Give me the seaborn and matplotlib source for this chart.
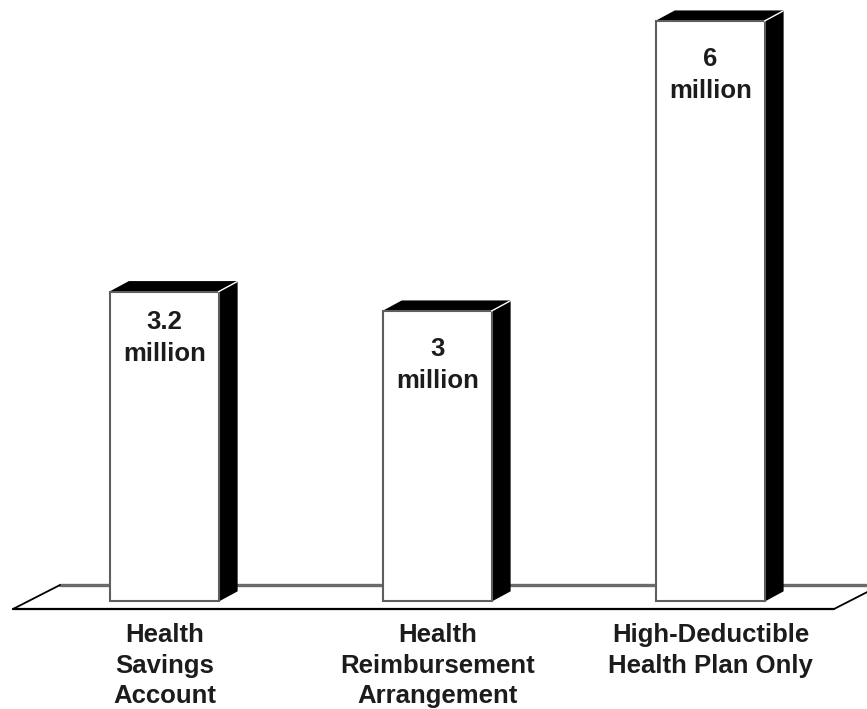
import matplotlib
matplotlib.use("Agg")
import matplotlib.pyplot as plt
import pandas as pd
import seaborn as sns
from matplotlib.patches import Polygon
from matplotlib.lines import Line2D

# Enrollment by account type (millions of people)
categories = [
    "Health\nSavings\nAccount",
    "Health\nReimbursement\nArrangement",
    "High-Deductible\nHealth Plan Only",
]
values = [3.2, 3.0, 6.0]
value_labels = ["3.2\nmillion", "3\nmillion", "6\nmillion"]

sns.set_theme(style="white")
plt.rcParams["font.family"] = ["Liberation Sans", "DejaVu Sans"]

W, H = 867, 709
fig = plt.figure(figsize=(W / 100, H / 100), dpi=100)
ax = fig.add_axes([0, 0, 1, 1])

df = pd.DataFrame({"plan": categories, "people": values})
sns.barplot(data=df, x="plan", y="people", color="white", saturation=1,
            width=0.396, edgecolor="#5e5e5e", linewidth=1.5, ax=ax, zorder=3)

# Axis limits chosen so the floor line sits near the bottom of the canvas
xlim = (-0.6026, 2.5733)
ylim = (-1.1172, 6.2172)
ax.set_xlim(*xlim)
ax.set_ylim(*ylim)
ax.axis("off")

# size of one pixel in data units
px_x = (xlim[1] - xlim[0]) / W
px_y = (ylim[1] - ylim[0]) / H

# depth of the pseudo-3D extrusion
dx, dy = 18.5 * px_x, 10 * px_y

# floor slab
fy_back, fy_front = 16 * px_y, -8 * px_y
fl_front, fr_front = xlim[0] + 13 * px_x, xlim[0] + 834 * px_x
slant = 47 * px_x
ax.add_patch(Polygon([(fl_front, fy_front), (fl_front + slant, fy_back),
                      (fr_front + slant, fy_back), (fr_front, fy_front)],
                     closed=True, facecolor="white", edgecolor="none", zorder=1))
ax.add_line(Line2D([fl_front + slant, fr_front + slant], [fy_back, fy_back],
                   color="#6a6a6a", lw=2.4, zorder=1.5))
ax.add_line(Line2D([fl_front, fl_front + slant], [fy_front, fy_back],
                   color="black", lw=1.3, zorder=1.5))
ax.add_line(Line2D([fr_front, fr_front + slant], [fy_front, fy_back],
                   color="black", lw=1.3, zorder=1.5))
ax.add_line(Line2D([fl_front, fr_front], [fy_front, fy_front],
                   color="black", lw=1.6, zorder=1.5))

# distance (px) from bar top to the middle of its value label
label_drop = [46, 54, 54]

# top and side faces of every bar, plus value labels
for patch, label, drop in zip(ax.patches[:len(values)], value_labels, label_drop):
    x0, w, h = patch.get_x(), patch.get_width(), patch.get_height()
    x1 = x0 + w
    ax.add_patch(Polygon([(x0, h), (x0 + dx, h + dy), (x1 + dx, h + dy), (x1, h)],
                         closed=True, facecolor="black", edgecolor="black",
                         lw=0.8, zorder=2))
    ax.add_patch(Polygon([(x1, 0), (x1, h), (x1 + dx, h + dy), (x1 + dx, dy)],
                         closed=True, facecolor="black", edgecolor="black",
                         lw=0.8, zorder=2))
    ax.add_line(Line2D([x1, x1 + dx], [h, h + dy], color="white", lw=1.0, zorder=4))
    ax.text(x0 + w / 2, h - drop * px_y, label, ha="center", va="center",
            fontsize=18.5, fontweight="bold", color="#1c1c1c",
            linespacing=1.43, zorder=5)

# category names under the floor
for i, name in enumerate(categories):
    ax.text(i, -22 * px_y, name, ha="center", va="top", fontsize=18.5,
            fontweight="bold", color="#1c1c1c", linespacing=1.35)

fig.savefig("out.png", dpi=100, facecolor="white")
